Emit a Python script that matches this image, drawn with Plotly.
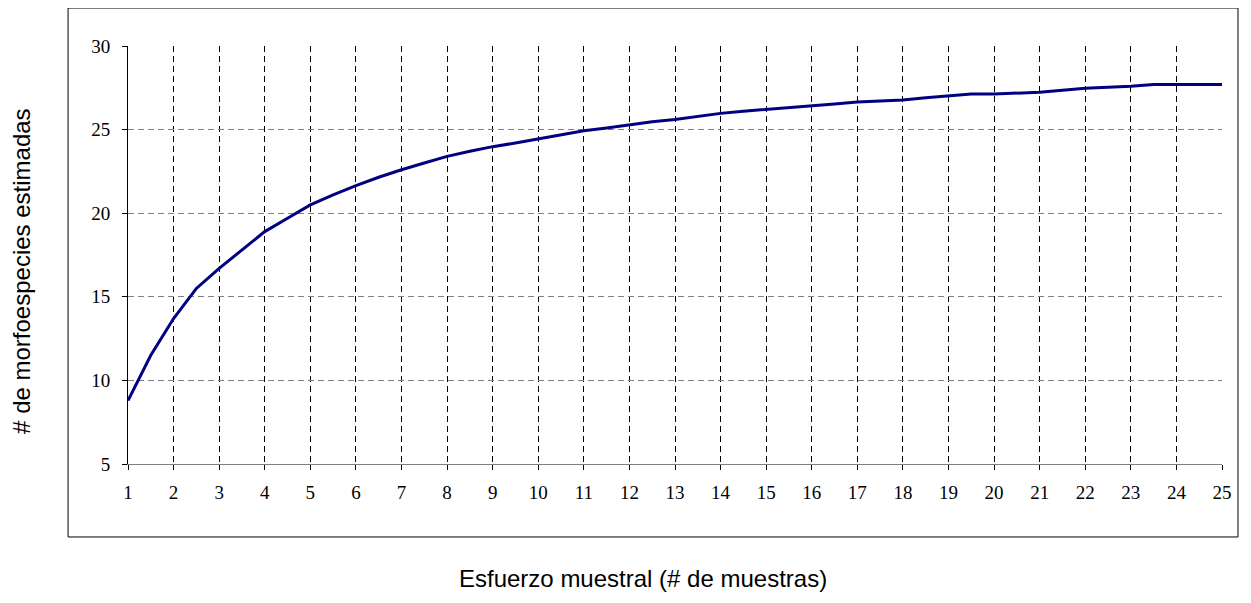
import plotly.graph_objects as go

# esfuerzo muestral (x) y morfoespecies estimadas (y)
muestras = [1, 1.5, 2, 2.5, 3, 3.5, 4, 4.5, 5, 5.5, 6, 6.5, 7, 7.5, 8, 8.5, 9, 9.5,
            10, 10.5, 11, 11.5, 12, 12.5, 13, 13.5, 14, 14.5, 15, 15.5, 16, 16.5,
            17, 17.5, 18, 18.5, 19, 19.5, 20, 20.5, 21, 21.5, 22, 22.5, 23, 23.5,
            24, 24.5, 25]
especies = [8.8, 11.5, 13.7, 15.5, 16.7, 17.8, 18.9, 19.7, 20.5, 21.1, 21.65, 22.15,
            22.6, 23.0, 23.4, 23.7, 23.98, 24.2, 24.45, 24.7, 24.93, 25.1, 25.3, 25.47,
            25.6, 25.8, 25.97, 26.1, 26.2, 26.3, 26.43, 26.53, 26.65, 26.71, 26.77,
            26.9, 27.03, 27.13, 27.13, 27.17, 27.23, 27.35, 27.47, 27.53, 27.59, 27.7,
            27.7, 27.7, 27.7]
x_ticks = list(range(1, 26))
y_ticks = [5, 10, 15, 20, 25, 30]

fig = go.Figure()

fig.add_trace(go.Scatter(
    x=muestras,
    y=especies,
    mode='lines',
    line=dict(color='#000080', width=3),
    showlegend=False,
))

# la pagina tiene 8px de margen en el body
fig.update_layout(
    width=1235,
    height=587,
    margin=dict(l=120, r=21, t=38, b=131),
    paper_bgcolor='white',
    plot_bgcolor='white',
    font=dict(family='Liberation Serif', size=19, color='black'),
)

fig.update_xaxes(
    range=[1, 25],
    tickvals=x_ticks,
    showgrid=True, gridcolor='black', gridwidth=1, griddash='6px,4px',
    showline=True, linecolor='#808080', linewidth=1,
    ticks='outside', ticklen=5, tickcolor='black',
    ticklabelstandoff=6,
    zeroline=False,
)
fig.update_yaxes(
    range=[5, 30],
    tickvals=y_ticks,
    showgrid=True, gridcolor='#808080', gridwidth=1, griddash='6px,4px',
    showline=True, linecolor='black', linewidth=1,
    ticks='outside', ticklen=5, tickcolor='black',
    ticklabelstandoff=8,
    zeroline=False,
)

# recuadro exterior del grafico
fig.add_shape(type='rect', xref='paper', yref='paper',
              x0=-0.0548, x1=1.0146, y0=-0.1746, y1=1.0909,
              line=dict(color='black', width=1))

fig.add_annotation(
    text='Esfuerzo muestral (# de muestras)',
    xref='paper', yref='paper', x=0.4707, y=-0.2751,
    xanchor='center', yanchor='middle',
    showarrow=False, font=dict(family='Liberation Sans', size=24),
)
fig.add_annotation(
    text='# de morfoespecies estimadas',
    xref='paper', yref='paper', x=-0.0969, y=0.462, textangle=-90,
    xanchor='center', yanchor='middle',
    showarrow=False, font=dict(family='Liberation Sans', size=24),
)

fig.write_html("out.html")
